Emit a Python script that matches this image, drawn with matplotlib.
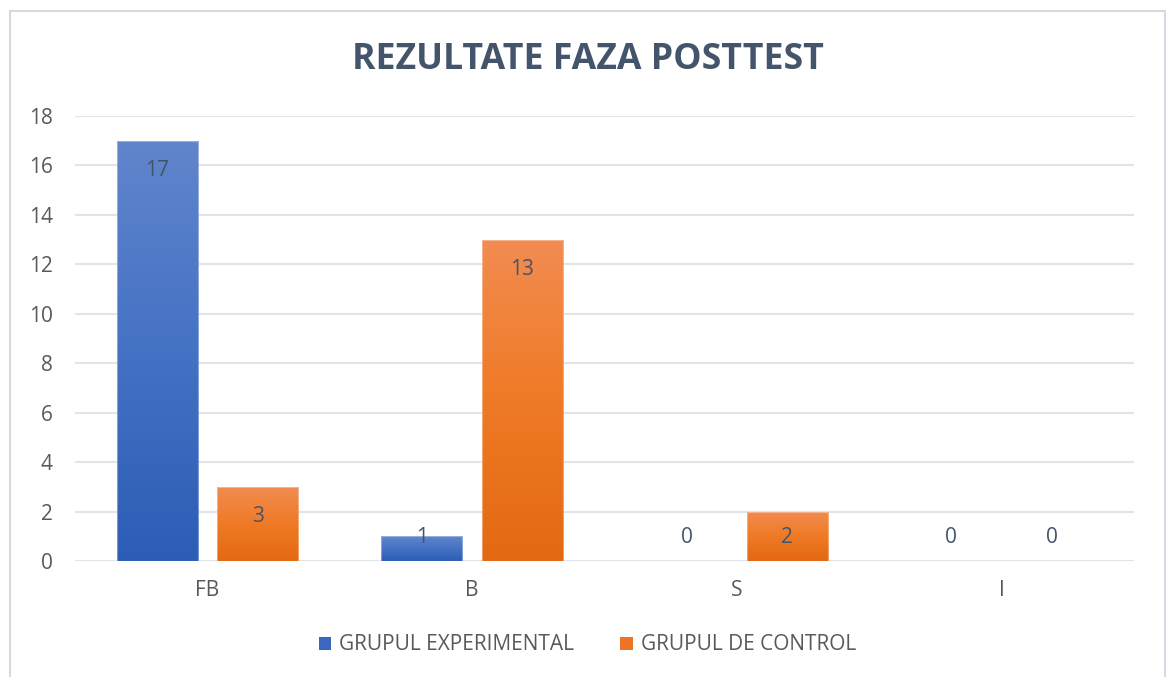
import numpy as np
import matplotlib.pyplot as plt
import matplotlib.patches as patches
from matplotlib.colors import LinearSegmentedColormap

plt.rcParams["font.family"] = ["Open Sans", "DejaVu Sans"]

# data
categories = ["FB", "B", "S", "I"]
experimental = [17, 1, 0, 0]
control = [3, 13, 2, 0]
series_names = ["GRUPUL EXPERIMENTAL", "GRUPUL DE CONTROL"]
y_ticks = [0, 2, 4, 6, 8, 10, 12, 14, 16, 18]

TEXT = "#44546A"
TICK = "#595959"
GRID = "#E1E4EA"

blue_cmap = LinearSegmentedColormap.from_list(
    "blue_grad", ["#2C5DB5", "#4472C4", "#6185CC"])
orange_cmap = LinearSegmentedColormap.from_list(
    "orange_grad", ["#E36912", "#EF7A25", "#F28C52"])

fig = plt.figure(figsize=(11.7, 6.77), dpi=100)

# light outer frame like the office chart border
frame = patches.Rectangle((10 / 1170, -0.01), 1155 / 1170, 1 - 11 / 677 + 0.01,
                          transform=fig.transFigure, fill=False,
                          edgecolor="#D5DAE2", linewidth=1.5)
fig.add_artist(frame)

ax = fig.add_axes([75 / 1170, 1 - 561 / 677, (1134 - 75) / 1170, (561 - 116) / 677])

x = np.arange(len(categories))
width = 0.306
offset = 0.19

bars_e = ax.bar(x - offset, experimental, width, color="none", zorder=2)
bars_c = ax.bar(x + offset, control, width, color="none", zorder=2)

# vertical gradient inside each bar
grad = np.linspace(0, 1, 256).reshape(-1, 1)
for bars, cmap in [(bars_e, blue_cmap), (bars_c, orange_cmap)]:
    for r in bars:
        h = r.get_height()
        if h <= 0:
            continue
        x0 = r.get_x()
        im = ax.imshow(grad, extent=[x0, x0 + r.get_width(), 0, h],
                       origin="lower", aspect="auto", cmap=cmap, zorder=2)
        im.set_clip_path(r)
        edge = patches.Rectangle((x0, 0), r.get_width(), h, fill=False,
                                 edgecolor="white", linewidth=0.8, alpha=0.35,
                                 zorder=3)
        ax.add_patch(edge)

# data labels (inside end, kept above the axis for small values)
for bars, vals in [(bars_e, experimental), (bars_c, control)]:
    for r, v in zip(bars, vals):
        ax.text(r.get_x() + r.get_width() / 2, max(v - 1.2, 0.95), str(v),
                ha="center", va="center", fontsize=15, color=TEXT, zorder=4)

ax.set_xlim(-0.5, len(categories) - 0.5)
ax.set_ylim(0, 18)
ax.set_yticks(y_ticks)
ax.set_xticks(x)
ax.set_xticklabels(categories)
ax.grid(axis="y", color=GRID, linewidth=1.5, zorder=0)
ax.set_axisbelow(True)
for s in ax.spines.values():
    s.set_visible(False)
ax.tick_params(axis="both", length=0, labelsize=15, labelcolor=TICK)
ax.tick_params(axis="y", pad=16)
ax.tick_params(axis="x", pad=14)

fig.text(587.5 / 1170, 1 - 60 / 677, "REZULTATE FAZA POSTTEST", ha="center",
         va="center", fontsize=25.7, fontweight="bold", color=TEXT)

handles = [patches.Patch(facecolor="#3A68C0"), patches.Patch(facecolor="#EC7424")]
fig.legend(handles, series_names, loc="center", ncol=2,
           bbox_to_anchor=(587.5 / 1170, 1 - 645 / 677), frameon=False,
           fontsize=15, labelcolor=TICK, handlelength=0.6, handleheight=0.6,
           handletextpad=0.4, columnspacing=2.2)

fig.savefig("out.png", dpi=100)
